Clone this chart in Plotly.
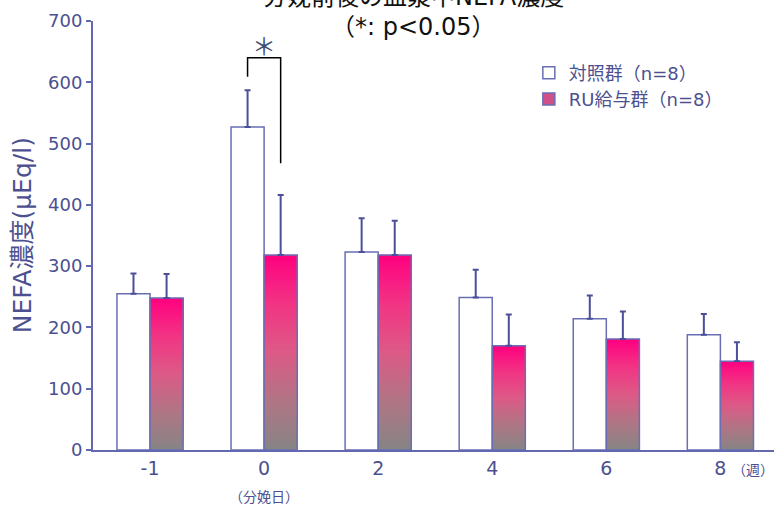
import plotly.graph_objects as go
import plotly.colors as pc

# ---- data ----
weeks = ["-1", "0", "2", "4", "6", "8"]
control = [255, 527, 323, 249, 214, 188]
control_sd = [33, 60, 55, 45, 38, 34]
ru = [248, 318, 318, 170, 181, 145]
ru_sd = [39, 98, 56, 51, 45, 31]
y_ticks = [0, 100, 200, 300, 400, 500, 600, 700]
sig_bracket_y = [609, 640, 468]   # left foot, top, right foot of the bracket
sig_star_y = 661

title_line1 = "分娩前後の血漿中NEFA濃度"
title_line2 = "（*: p<0.05）"
y_title = "NEFA濃度(μEq/l)"
name_ctrl = "対照群（n=8）"
name_ru = "RU給与群（n=8）"

FONT = "DejaVu Sans, Noto Sans CJK JP, sans-serif"
TXT = "#4C5090"
AX = "#6468B0"
OUT = "#6A6EB2"

grad = [[0.0, "#858585"], [0.25, "#B07585"], [0.5, "#DC5A86"],
        [0.75, "#F23484"], [1.0, "#FF0080"]]

xs = list(range(len(weeks)))
bargap = 0.42
bw = (1 - bargap) / 2

fig = go.Figure()

fig.add_trace(go.Bar(
    x=xs, y=control, name=name_ctrl, offsetgroup="a",
    marker=dict(color="white", line=dict(color=OUT, width=1.5)),
    error_y=dict(type="data", array=control_sd, arrayminus=[0]*6, symmetric=False,
                 color="#4B4F9A", thickness=2, width=3),
    showlegend=True))

# gradient fill for RU bars: overlapping layers, each starting higher
N = 60
for k in range(N):
    c = pc.sample_colorscale(grad, [(k + 0.5) / N])[0]
    fig.add_trace(go.Bar(
        x=xs, y=[v - k * v / N for v in ru], base=[k * v / N for v in ru],
        offsetgroup="b", marker=dict(color=c, line=dict(width=0)),
        showlegend=False, hoverinfo="skip"))

# outline + error bars for RU
fig.add_trace(go.Bar(
    x=xs, y=ru, offsetgroup="b", showlegend=False,
    marker=dict(color="rgba(0,0,0,0)", line=dict(color=OUT, width=1.5)),
    error_y=dict(type="data", array=ru_sd, arrayminus=[0]*6, symmetric=False,
                 color="#4B4F9A", thickness=2, width=3)))

# legend-only entry for RU
fig.add_trace(go.Bar(
    x=xs, y=[None]*6, offsetgroup="b", name=name_ru,
    marker=dict(color="#D0508A", line=dict(color=OUT, width=1.5)),
    showlegend=True))

# significance bracket between the two bars at week 0
i0 = weeks.index("0")
xl, xr = i0 - bw / 2, i0 + bw / 2
fig.add_shape(type="path",
              path=f"M {xl} {sig_bracket_y[0]} L {xl} {sig_bracket_y[1]} L {xr} {sig_bracket_y[1]} L {xr} {sig_bracket_y[2]}",
              xref="x", yref="y", line=dict(color="black", width=1.5))
fig.add_annotation(x=i0, y=sig_star_y, xref="x", yref="y", text="＊", showarrow=False,
                   xanchor="center", yanchor="middle",
                   font=dict(family="Noto Sans CJK JP", size=24, color="#3E4E6E"))

# titles
fig.add_annotation(x=0.47, y=1.056, xref="paper", yref="paper", text=title_line1,
                   showarrow=False, xanchor="center", yanchor="middle",
                   font=dict(family=FONT, size=24, color="#111111"))
fig.add_annotation(x=0.47, y=0.986, xref="paper", yref="paper", text=title_line2,
                   showarrow=False, xanchor="center", yanchor="middle",
                   font=dict(family=FONT, size=24, color="#111111"))
fig.add_annotation(x=-0.104, y=0.501, xref="paper", yref="paper", text=y_title,
                   textangle=-90, showarrow=False, xanchor="center", yanchor="middle",
                   font=dict(family=FONT, size=25, color=TXT))
fig.add_annotation(x=i0, y=-0.11, xref="x", yref="paper", text="（分娩日）",
                   showarrow=False, xanchor="center", yanchor="middle",
                   font=dict(family=FONT, size=14, color=TXT))
fig.add_annotation(x=len(weeks) - 1, y=-0.047, xref="x", yref="paper", text="（週）",
                   xshift=33, showarrow=False, xanchor="center", yanchor="middle",
                   font=dict(family=FONT, size=14, color=TXT))

fig.update_layout(
    width=774, height=508,
    margin=dict(l=93, r=0, t=21, b=58),
    paper_bgcolor="white", plot_bgcolor="white",
    barmode="group", bargap=bargap, bargroupgap=0,
    font=dict(family=FONT, color=TXT),
    legend=dict(x=0.64, y=0.922, xanchor="left", yanchor="top",
                bgcolor="rgba(0,0,0,0)", font=dict(family=FONT, size=18, color=TXT),
                itemwidth=30, tracegroupgap=0),
    xaxis=dict(range=[-0.5, 5.47], tickvals=xs, ticktext=weeks, showline=True,
               linecolor=AX, linewidth=2, ticks="", showgrid=False, zeroline=False,
               tickfont=dict(family=FONT, size=19, color=TXT)),
    yaxis=dict(range=[0, 700], tickvals=y_ticks, showline=True, linecolor=AX, linewidth=2,
               ticks="outside", ticklen=5, tickwidth=1.5, tickcolor=AX,
               showgrid=False, zeroline=False,
               tickfont=dict(family=FONT, size=18, color=TXT)),
)

fig.write_html("out.html")
